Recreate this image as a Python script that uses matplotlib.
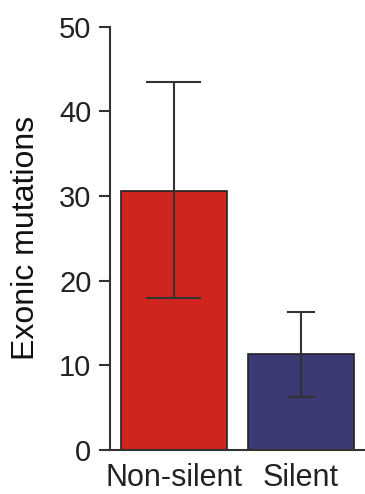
import numpy as np
import matplotlib.pyplot as plt

categories = ["Non-silent", "Silent"]
means = [30.6, 11.3]
err_low = [17.9, 6.3]
err_high = [43.5, 16.3]
colors = ["#D0241F", "#3B3A72"]

plt.rcParams['font.family'] = ['Liberation Sans', 'DejaVu Sans']

fig = plt.figure(figsize=(3.65, 4.94), dpi=100)
ax = fig.add_axes([0.3, 0.089, 0.70, 0.857])

x = np.arange(len(categories))
ax.bar(x, means, width=0.833, color=colors, edgecolor="#222222", linewidth=1.2, zorder=2)

yerr = np.array([[m - lo for m, lo in zip(means, err_low)],
                 [hi - m for m, hi in zip(means, err_high)]])
caps = [0.42, 0.21]
for i in range(len(categories)):
    ax.errorbar(x[i], means[i], yerr=yerr[:, i:i + 1], fmt="none", ecolor="#333333",
                elinewidth=1.5, capsize=0, zorder=3)
    for yv in (err_low[i], err_high[i]):
        ax.plot([x[i] - caps[i] / 2, x[i] + caps[i] / 2], [yv, yv], color="#333333", lw=1.5, zorder=3)

ax.set_xlim(-0.504, 1.503)
ax.set_ylim(0, 50)
ax.set_yticks([0, 10, 20, 30, 40, 50])
ax.set_xticks(x)
ax.set_xticklabels(categories)
ax.set_ylabel("Exonic mutations", fontsize=23, color="#111111", labelpad=13)

for s in ["top", "right"]:
    ax.spines[s].set_visible(False)
for s in ["left", "bottom"]:
    ax.spines[s].set_color("#333333")
    ax.spines[s].set_linewidth(1.5)

ax.tick_params(axis="y", length=8, width=1.5, color="#333333", labelsize=21, pad=5, labelcolor="#222222")
ax.tick_params(axis="x", length=0, labelsize=22, pad=9, labelcolor="#222222")

fig.savefig("out.png", dpi=100)
